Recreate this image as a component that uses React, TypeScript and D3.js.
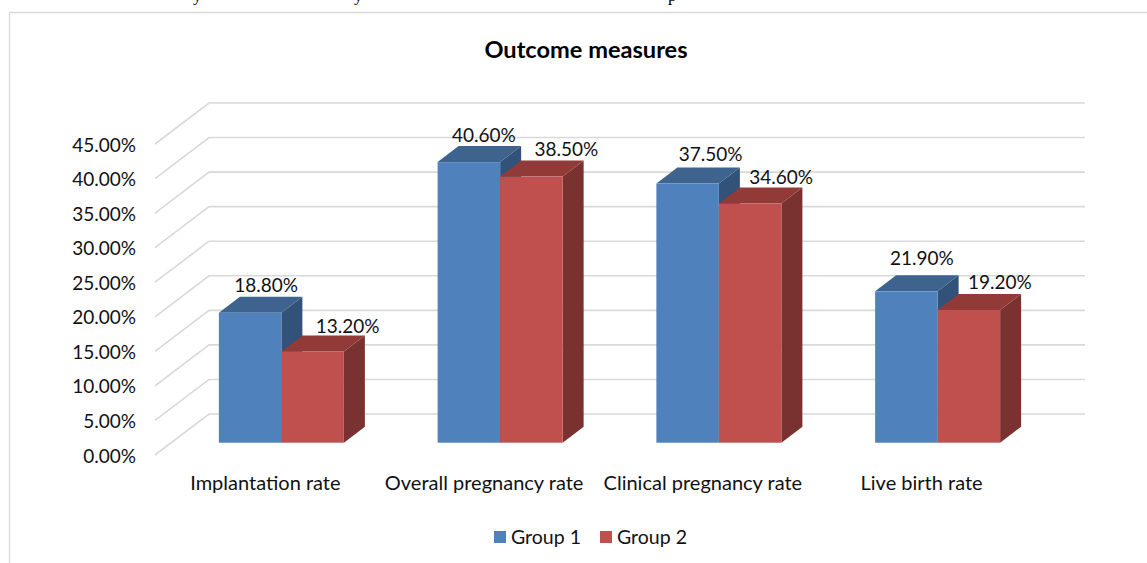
import React from "react";
import * as d3 from "d3";

const categories = ["Implantation rate", "Overall pregnancy rate", "Clinical pregnancy rate", "Live birth rate"];
const seriesNames = ["Group 1", "Group 2"];
const group1 = [18.8, 40.6, 37.5, 21.9];
const group2 = [13.2, 38.5, 34.6, 19.2];
const ticks = [0, 5, 10, 15, 20, 25, 30, 35, 40, 45];
const colors = [
  { front: "#4f81bd", top: "#3e638f", side: "#325279" },
  { front: "#c0504d", top: "#923a38", side: "#7a3230" },
];
// manual placement of the data labels relative to each bar's front top centre
const labelDx = [[16, 15, 23, 15.5], [35, 35, 31, 31]];
const labelDy = [[-28, -28, -30, -33.5], [-26, -28, -27, -29]];

const W = 1147, H = 563;
const FONT = "Lato, 'Open Sans', sans-serif";
const GRID = "#d9d9d9";
const FS_NUM = 19;
const FS_CAT = 20;
const FS_LEG = 19.5;

export default function App() {
  const yBack = d3.scaleLinear().domain([0, 45]).range([414, 103]);
  const yFront = d3.scaleLinear().domain([0, 45]).range([455, 144]);
  const yBar = d3.scaleLinear().domain([0, 45]).range([442.7, 131.7]);
  const x0 = d3.scaleBand().domain(categories).range([172, 1047]);
  const x1 = d3.scaleBand().domain(seriesNames).range([0, 125]);
  const off = (x0.bandwidth() - 125) / 2;
  const dx = 21, dy = -16;
  const values = [group1, group2];
  const line = d3.line();

  return (
    <svg width={W} height={H} style={{ position: "absolute", left: 0, top: 0, background: "#fff" }} fontFamily={FONT}>
      <text x={193} y={1} fontFamily="'Liberation Serif', serif" fontSize={17} fill="#000">y</text>
      <text x={354} y={1} fontFamily="'Liberation Serif', serif" fontSize={17} fill="#000">y</text>
      <text x={668} y={1} fontFamily="'Liberation Serif', serif" fontSize={17} fill="#000">p</text>
      <path d={line([[9.5, H], [9.5, 12.5], [W, 12.5]]) as string} fill="none" stroke={GRID} strokeWidth={1.3} />

      <text x={586} y={49} textAnchor="middle" dominantBaseline="central" fontSize={23.6} fontWeight={700} fill="#000">Outcome measures</text>

      {ticks.map((t) => (
        <g key={t}>
          <path
            d={line([[155, yFront(t)], [209, yBack(t)], [1085, yBack(t)]]) as string}
            fill="none" stroke={GRID} strokeWidth={1.6}
          />
          <text x={136} y={yFront(t)} textAnchor="end" dominantBaseline="central" fontSize={FS_NUM} fill="#111">
            {t.toFixed(2)}%
          </text>
        </g>
      ))}

      {categories.map((c, i) => (
        <g key={c}>
          {seriesNames.map((s, j) => {
            const v = values[j][i];
            const x = (x0(c) as number) + off + (x1(s) as number);
            const w = x1.bandwidth();
            const y = yBar(v);
            const b = yBar(0);
            return (
              <g key={s}>
                <path d={line([[x + w, y], [x + w + dx, y + dy], [x + w + dx, b + dy], [x + w, b]]) + "Z"} fill={colors[j].side} />
                <path d={line([[x, y], [x + dx, y + dy], [x + w + dx, y + dy], [x + w, y]]) + "Z"} fill={colors[j].top} />
                <rect x={x} y={y} width={w} height={b - y} fill={colors[j].front} />
              </g>
            );
          })}
        </g>
      ))}

      {categories.map((c, i) =>
        seriesNames.map((s, j) => {
          const v = values[j][i];
          const x = (x0(c) as number) + off + (x1(s) as number) + x1.bandwidth() / 2;
          return (
            <text key={c + s} x={x + labelDx[j][i]} y={yBar(v) + labelDy[j][i]} textAnchor="middle" dominantBaseline="central" fontSize={FS_NUM} fill="#111">
              {v.toFixed(2)}%
            </text>
          );
        })
      )}

      {categories.map((c) => (
        <text key={c} x={(x0(c) as number) + x0.bandwidth() / 2 - 16} y={482} textAnchor="middle" dominantBaseline="central" fontSize={FS_CAT} fill="#111">
          {c}
        </text>
      ))}

      {seriesNames.map((s, j) => (
        <g key={s} transform={`translate(${494 + j * 106},531)`}>
          <rect width={12} height={12} fill={colors[j].front} />
          <text x={17} y={5} dominantBaseline="central" fontSize={FS_LEG} fill="#111">{s}</text>
        </g>
      ))}
    </svg>
  );
}
